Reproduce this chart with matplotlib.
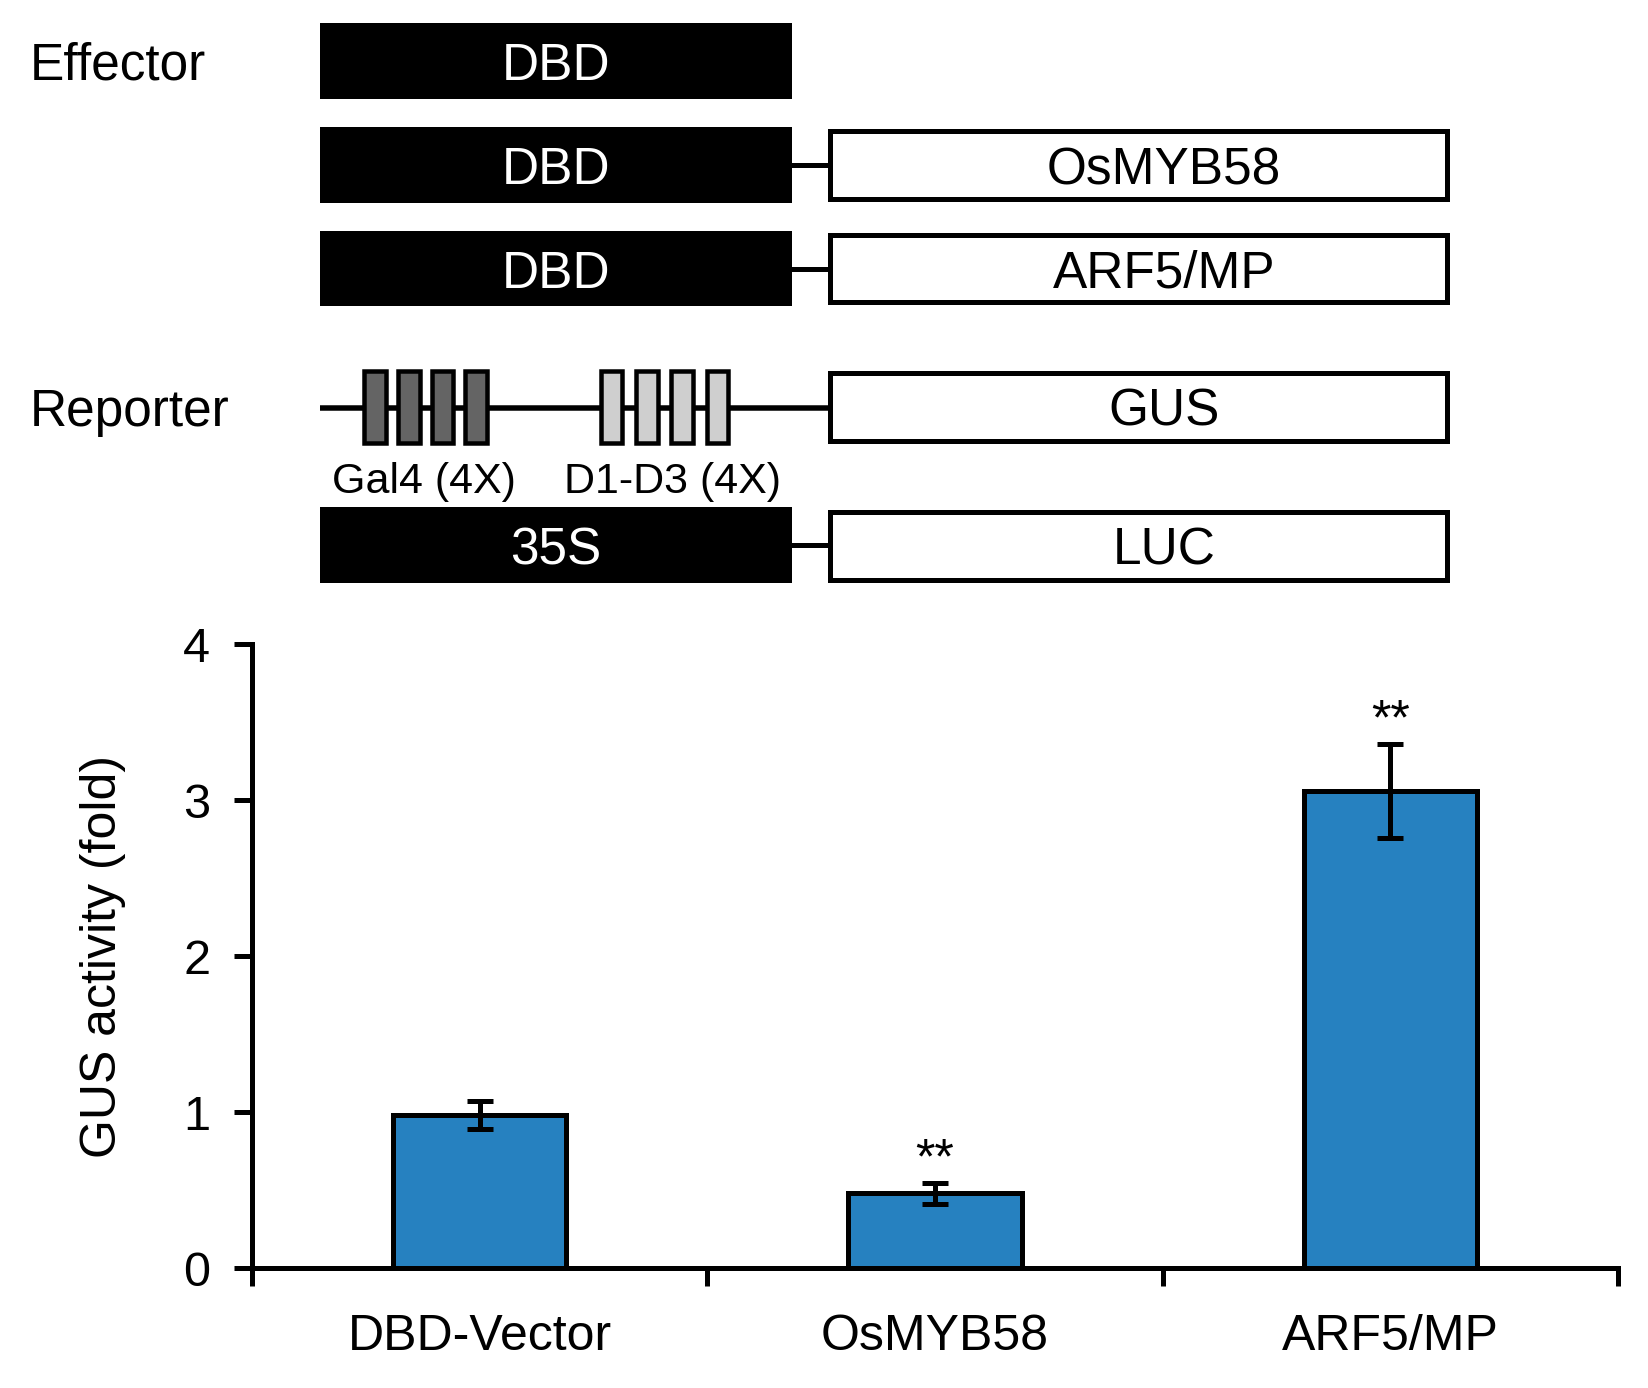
import matplotlib
matplotlib.use("Agg")
import matplotlib.pyplot as plt
from matplotlib.patches import Rectangle

# --- data --------------------------------------------------------------
categories = ["DBD-Vector", "OsMYB58", "ARF5/MP"]
gus_fold   = [0.98, 0.48, 3.06]
gus_err    = [0.09, 0.065, 0.30]
signif     = ["", "**", "**"]
yticks     = [0, 1, 2, 3, 4]

effector_parts = ["OsMYB58", "ARF5/MP"]

# --- figure ------------------------------------------------------------
W, H = 1648, 1388
fig = plt.figure(figsize=(W / 100, H / 100), dpi=100)
plt.rcParams["font.family"] = ["Liberation Sans", "DejaVu Sans"]

# construct diagram, drawn in pixel coords of the whole figure
dg = fig.add_axes([0, 0, 1, 1])
dg.set_xlim(0, W)
dg.set_ylim(H, 0)
dg.axis("off")

px = 72 / 100  # pixels -> points
FS = 37

def black_box(y0, y1, label):
  dg.add_patch(Rectangle((320, y0), 472, y1 - y0, fc="black", ec="none"))
  dg.text(556, (y0 + y1) / 2, label, color="white", ha="center",
          va="center_baseline", fontsize=FS)

def white_box(y0, y1, label):
  dg.add_patch(Rectangle((830.5, y0 + 2.5), 617, y1 - y0 - 5, fc="white",
                         ec="black", lw=5 * px))
  dg.text(1164, (y0 + y1) / 2, label, color="black", ha="center",
          va="center_baseline", fontsize=FS)

def link(y):
  dg.plot([790, 830], [y, y], color="black", lw=5 * px,
          solid_capstyle="butt")

dg.text(30, 60, "Effector", ha="left", va="center_baseline", fontsize=FS)
dg.text(30, 407, "Reporter", ha="left", va="center_baseline", fontsize=FS)

black_box(23, 99, "DBD")
rows = [(127, 203), (231, 306)]
for (y0, y1), name in zip(rows, effector_parts):
  black_box(y0, y1, "DBD")
  white_box(y0 + 1.5, y1 - 1.5, name)
  link((y0 + y1) / 2)

# reporter
dg.plot([320, 830], [407.5, 407.5], color="black", lw=5.5 * px,
        solid_capstyle="butt")
for x0, step, fc in [(364.5, 33.6, "#646464"), (601, 35.2, "#cfcfcf")]:
  for i in range(4):
    dg.add_patch(Rectangle((x0 + i * step, 371), 21.5, 72, fc=fc,
                           ec="black", lw=4.5 * px, zorder=3))
dg.text(424, 477, "Gal4 (4X)", ha="center", va="center_baseline", fontsize=31)
dg.text(673, 477, "D1-D3 (4X)", ha="center", va="center_baseline", fontsize=31)
white_box(370.5, 443, "GUS")

black_box(507, 583, "35S")
white_box(509, 582, "LUC")
link(545)

# --- bar chart ---------------------------------------------------------
y0_px, y4_px = 1268.3, 644.2
ax = fig.add_axes([252 / W, (H - y0_px) / H, 1366 / W, (y0_px - y4_px) / H])
ax.patch.set_alpha(0)
xpos = [i + 0.5 for i in range(len(categories))]
ax.bar(xpos, gus_fold, width=0.38, color="#2681c0", edgecolor="black",
       linewidth=5 * px, zorder=2)
ax.errorbar(xpos, gus_fold, yerr=gus_err, fmt="none", ecolor="black",
            elinewidth=5 * px, capsize=9.5, capthick=5 * px, zorder=3)
for x, v, e, s in zip(xpos, gus_fold, gus_err, signif):
  if s:
    ax.text(x, v + e, s, ha="center", va="bottom", fontsize=36)

ax.set_xlim(0, 3)
ax.set_ylim(0, 4)
ax.set_yticks(yticks)
ax.set_xticks([0, 1, 2, 3])
ax.set_xticklabels([])
ax.set_xticks(xpos, minor=True)
ax.set_xticklabels(categories, minor=True, fontsize=36)
ax.tick_params(axis="x", which="minor", length=0, pad=33)
ax.tick_params(axis="x", which="major", length=13, width=5 * px, direction="out")
ax.tick_params(axis="y", length=13, width=5 * px, pad=17, labelsize=35)
for side in ["top", "right"]:
  ax.spines[side].set_visible(False)
for side in ["left", "bottom"]:
  ax.spines[side].set_linewidth(5 * px)
ax.set_ylabel("GUS activity (fold)", fontsize=36)
ax.yaxis.set_label_coords(-0.092, 0.5)

fig.savefig("out.png", dpi=100)
